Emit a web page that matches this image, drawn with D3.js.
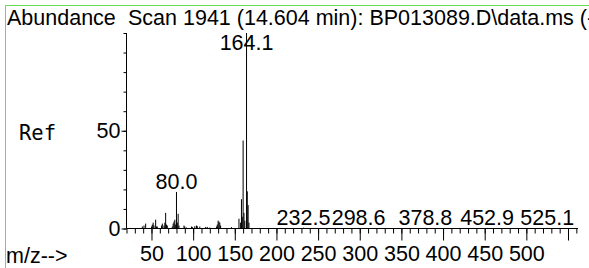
<!DOCTYPE html>
<html>
<head>
<meta charset="utf-8">
<script src="https://cdn.jsdelivr.net/npm/d3@7"></script>
<style>
  html, body { margin: 0; padding: 0; background: #fff; overflow: hidden; }
  svg { display: block; }
  text { font-family: "Liberation Sans", Arial, sans-serif; }
</style>
</head>
<body>
<svg id="chart" width="589" height="268"></svg>
<script>
// ---- data ----
const mz = [39, 41, 43, 50, 51, 52, 53, 55, 56, 57, 62, 63, 65, 66, 67, 68, 69,
            75, 76, 77, 78, 79, 80.0, 81, 82, 83, 89, 90, 92, 98, 99, 102, 104, 105,
            108, 115, 117, 120, 128, 129, 130, 131, 132, 133, 146, 155, 157, 158,
            159, 160, 161, 162, 164.1, 165, 166, 167, 232.5, 298.6, 378.8, 452.9, 525.1];
const abundance = [1, 1.5, 2.5, 1, 2, 3, 1.5, 4.5, 1, 1, 1.5, 2.5, 1.5, 3, 8, 2, 1.5,
                   1, 2.5, 3.5, 4.5, 2, 18.7, 3, 7.5, 1.5, 1.5, 1, 0.5, 1, 0.8, 1.2, 1.5, 1.2,
                   1, 0.8, 0.8, 0.5, 1, 2, 4, 3.5, 3, 1.5, 0.7, 5, 3, 15,
                   6, 45, 8, 4, 100, 19, 12, 3, 0.4, 0.3, 0.3, 0.3, 0.3];
const peakLabels = ["80.0", "164.1", "232.5", "298.6", "378.8", "452.9", "525.1"];
const xTickLabels = [50, 100, 150, 200, 250, 300, 350, 400, 450, 500];
const xMajorTicks = [50, 100, 150, 200, 250, 300, 350, 400, 450, 500, 550];
const yTickLabels = [0, 50];
const titleText = "Scan 1941 (14.604 min): BP013089.D\\data.ms (-)";
const yAxisTitle = "Abundance";
const xAxisTitle = "m/z-->";
const refLabel = "Ref";

const FS = 21.5;

// ---- layout ----
const svg = d3.select("#chart");
const x = d3.scaleLinear().domain([20, 562]).range([126.5, 578]);
const y = d3.scaleLinear().domain([0, 100]).range([228.5, 33]);

// frame
svg.append("rect").attr("x", 5.5).attr("y", 5.5).attr("width", 700).attr("height", 400)
  .attr("fill", "none").attr("stroke", "#66dd55").attr("stroke-width", 1);

// bars
svg.append("g").selectAll("line").data(mz).join("line")
  .attr("x1", d => x(d)).attr("x2", d => x(d))
  .attr("y1", y(0)).attr("y2", (d, i) => y(abundance[i]))
  .attr("stroke", "#000").attr("stroke-width", 1);

// x axis
const minorX = d3.range(20, 561, 10);
const gxMinor = svg.append("g").attr("transform", `translate(0,${y(0)})`)
  .call(d3.axisBottom(x).tickValues(minorX).tickSize(5).tickFormat(""));
gxMinor.select(".domain").remove();
const gx = svg.append("g").attr("transform", `translate(0,${y(0)})`)
  .call(d3.axisBottom(x).tickValues(xMajorTicks).tickSize(12).tickPadding(5)
    .tickFormat(d => xTickLabels.includes(d) ? d : ""));
gx.select(".domain").remove();
gx.selectAll("text").attr("font-size", FS).attr("fill", "#000")
  .attr("font-family", "Liberation Sans, Arial, sans-serif");
svg.selectAll(".tick line").attr("stroke", "#000");

// y axis
const minorY = d3.range(0, 101, 10);
const gyMinor = svg.append("g").attr("transform", `translate(${x(20)},0)`)
  .call(d3.axisLeft(y).tickValues(minorY).tickSize(3).tickFormat(""));
gyMinor.select(".domain").remove();
const gy = svg.append("g").attr("transform", `translate(${x(20)},0)`)
  .call(d3.axisLeft(y).tickValues(yTickLabels).tickSize(5).tickPadding(1));
gy.select(".domain").remove();
gy.selectAll("text").attr("font-size", FS).attr("fill", "#000")
  .attr("font-family", "Liberation Sans, Arial, sans-serif");
svg.selectAll(".tick line").attr("stroke", "#000");

// axis lines
svg.append("line").attr("x1", x(20)).attr("x2", 578).attr("y1", y(0)).attr("y2", y(0)).attr("stroke", "#000");
svg.append("line").attr("x1", x(20)).attr("x2", x(20)).attr("y1", y(0)).attr("y2", y(100)).attr("stroke", "#000");

// peak labels
svg.append("g").selectAll("text").data(peakLabels).join("text")
  .attr("x", d => x(+d))
  .attr("y", d => {
    const i = mz.findIndex(m => Math.abs(m - +d) < 1e-6);
    return Math.max(y(abundance[i]) - 3, 50);
  })
  .attr("text-anchor", "middle").attr("font-size", FS).attr("fill", "#000")
  .text(d => d);

// titles
svg.append("text").attr("x", 7).attr("y", 25).attr("font-size", FS).text(yAxisTitle);
svg.append("text").attr("x", 128).attr("y", 25).attr("font-size", FS).text(titleText);
svg.append("text").attr("x", 6).attr("y", 263).attr("font-size", FS).text(xAxisTitle);
svg.append("text").attr("x", 19).attr("y", 140).attr("font-size", 20.5)
  .style("font-family", "'DejaVu Sans Mono', monospace").text(refLabel);
</script>
</body>
</html>
